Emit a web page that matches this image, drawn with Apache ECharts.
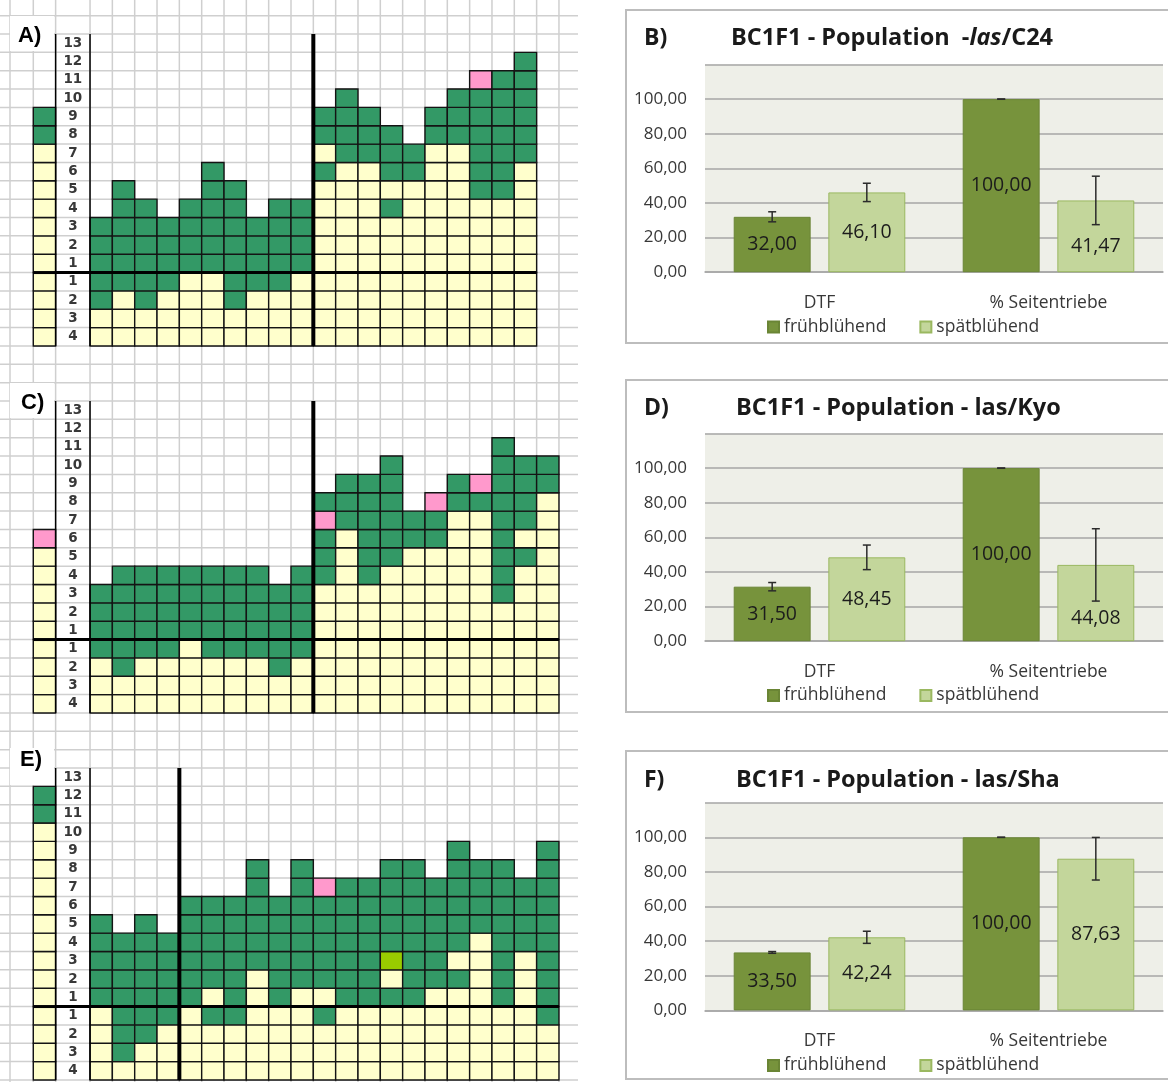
<!DOCTYPE html>
<html lang="de">
<head>
<meta charset="utf-8">
<title>BC1F1 Populationen</title>
<script src="https://cdn.jsdelivr.net/npm/echarts@6/dist/echarts.min.js"></script>
<style>
  html, body { margin: 0; padding: 0; background: #ffffff; }
  #chart { width: 1168px; height: 1082px; }
</style>
</head>
<body>
<div id="chart"></div>
<script>
// ---------- Genotype grids (A, C, E) ----------
// Row tick labels, bottom to top: 4 rows below the zero line, 13 above it
const rowLabels = ['4', '3', '2', '1', '1', '2', '3', '4', '5', '6', '7', '8', '9', '10', '11', '12', '13'];
const belowRows = 4;

// One string per column, bottom cell first; '|' marks the zero line.
// Y = gelb, G = grün, P = rosa, L = hellgrün
const refA = 'YYYY|YYYYYYYGG';
const colsA = [
  'YYGG|GGG', 'YYYG|GGGGG', 'YYGG|GGGG', 'YYYG|GGG', 'YYYY|GGGG',
  'YYYY|GGGGGG', 'YYGG|GGGGG', 'YYYG|GGG', 'YYYG|GGGG', 'YYYY|GGGG',
  'YYYY|YYYYYGYGG', 'YYYY|YYYYYYGGGG', 'YYYY|YYYYYYGGG', 'YYYY|YYYGYGGG', 'YYYY|YYYYYGG',
  'YYYY|YYYYYYYGG', 'YYYY|YYYYYYYGGG', 'YYYY|YYYYGGGGGGP', 'YYYY|YYYYGGGGGGG', 'YYYY|YYYYYYGGGGGG'
];
const splitA = 10;

const refC = 'YYYY|YYYYYP';
const colsC = [
  'YYYG|GGG', 'YYGG|GGGG', 'YYYG|GGGG', 'YYYG|GGGG', 'YYYY|GGGG',
  'YYYG|GGGG', 'YYYG|GGGG', 'YYYG|GGGG', 'YYGG|GGG', 'YYYG|GGGG',
  'YYYY|YYYGGGPG', 'YYYY|YYYYYYGGG', 'YYYY|YYYGGGGGG', 'YYYY|YYYYGGGGGG', 'YYYY|YYYYYGG',
  'YYYY|YYYYYGGP', 'YYYY|YYYYYYYGG', 'YYYY|YYYYYYYGP', 'YYYY|YYGGGGGGGGG', 'YYYY|YYYYGYGGGG',
  'YYYY|YYYYYYYYGG'
];
const splitC = 10;

const refE = 'YYYY|YYYYYYYYYYGG';
const colsE = [
  'YYYY|GGGGG', 'YGGG|GGGG', 'YYGG|GGGGG', 'YYYG|GGGG',
  'YYYY|GGGGGG', 'YYYG|YGGGGG', 'YYYG|GGGGGG', 'YYYY|YYGGGGGG', 'YYYY|GGGGGG',
  'YYYY|YGGGGGGG', 'YYYG|YGGGGGP', 'YYYY|GGGGGGG', 'YYYY|GGGGGGG', 'YYYY|GYLGGGGG',
  'YYYY|GGGGGGGG', 'YYYY|YGGGGGG', 'YYYY|YGYGGGGGG', 'YYYY|YYYYGGGG', 'YYYY|GGGGGGGG',
  'YYYY|YYYGGGG', 'YYYG|GGGGGGGGG'
];
const splitE = 4;

// ---------- Bar charts (B, D, F) ----------
const categories = ['DTF', '% Seitentriebe'];
const seriesNames = ['frühblühend', 'spätblühend'];

const earlyB = [32.00, 100.00];
const lateB = [46.10, 41.47];
const earlyErrB = [2.9, 0];
const lateErrB = [5.3, 14.0];

const earlyD = [31.50, 100.00];
const lateD = [48.45, 44.08];
const earlyErrD = [2.4, 0];
const lateErrD = [7.1, 20.9];

const earlyF = [33.50, 100.00];
const lateF = [42.24, 87.63];
const earlyErrF = [0.5, 0];
const lateErrF = [3.5, 12.3];

// ---------- Layout ----------
const COL_W = 22.33;
const ROW_H = 18.35;
const REF_LEFT = 33.3;
const LABEL_W = 34.4;
const DATA_LEFT = REF_LEFT + COL_W + LABEL_W;
const SHEET_RIGHT = 578;

const CELL_COLORS = { Y: '#FFFFCC', G: '#339966', P: '#FF99CC', L: '#99CC00' };
const CELL_KEYS = ['Y', 'G', 'P', 'L'];

const BAR_W = 0.336;
const BAR_GAP = 0.23;
const BAR_OFFSET = BAR_W * (1 + BAR_GAP) / 2;
const CAP = 4;
const FONT = '"Open Sans", "Liberation Sans", sans-serif';
const EARLY_COLOR = '#77933C';
const LATE_COLOR = '#C3D69B';

const leftPanels = [
  { name: 'A)', ref: refA, cols: colsA, split: splitA, top: 34, labelY: 36, labelX: 18, box: [10, 16, 44, 35] },
  { name: 'C)', ref: refC, cols: colsC, split: splitC, top: 401, labelY: 403, labelX: 21, box: [10, 383, 44, 35] },
  { name: 'E)', ref: refE, cols: colsE, split: splitE, top: 768, labelY: 760, labelX: 20, box: [10, 748, 44, 37] }
];

const barPanels = [
  { tag: 'B)', early: earlyB, late: lateB, earlyErr: earlyErrB, lateErr: lateErrB,
    title: '{n|BC1F1 - Population  -}{i|las}{n|/C24}', titleX: 731, titleY: 38,
    box: [626, 10, 560, 333], top: 64.5, legendTop: 318, lateShift: [[0, 0], [0, 10]] },
  { tag: 'D)', early: earlyD, late: lateD, earlyErr: earlyErrD, lateErr: lateErrD,
    title: '{n|BC1F1 - Population - las/Kyo}', titleX: 736, titleY: 408,
    box: [626, 380, 560, 332], top: 433.5, legendTop: 686.5, lateShift: [[0, 0], [0, 15]] },
  { tag: 'F)', early: earlyF, late: lateF, earlyErr: earlyErrF, lateErr: lateErrF,
    title: '{n|BC1F1 - Population - las/Sha}', titleX: 736, titleY: 780,
    box: [626, 751, 560, 328], top: 802.7, legendTop: 1056.5, lateShift: [[0, 0], [0, 0]] }
];
const PLOT_H = 207.7;

// ---------- Helpers ----------
const fmt = v => Number(v).toFixed(2).replace('.', ',');

function cellsOf(columns) {
  const out = [];
  columns.forEach((col, ci) => {
    col.replace('|', '').split('').forEach((code, ri) => {
      out.push([ci, ri, CELL_KEYS.indexOf(code)]);
    });
  });
  return out;
}

function renderCell(params, api) {
  const c = api.coord([api.value(0), api.value(1)]);
  const s = api.size([1, 1]);
  return {
    type: 'rect',
    shape: { x: c[0] - s[0] / 2, y: c[1] - s[1] / 2, width: s[0], height: s[1] },
    style: { fill: CELL_COLORS[CELL_KEYS[api.value(2)]], stroke: '#141414', lineWidth: 1.4 }
  };
}

function blackLine(x1, y1, x2, y2, w) {
  return { type: 'line', shape: { x1, y1, x2, y2 }, style: { stroke: '#000', lineWidth: w } };
}

// zero line across the reference column
function refFrame(params, api) {
  const cs = params.coordSys;
  const s = api.size([1, 1]);
  const yZero = api.coord([0, belowRows])[1] + s[1] / 2;
  return { type: 'group', children: [blackLine(cs.x, yZero, cs.x + cs.width, yZero, 3)] };
}

// label column borders, zero line and the group separator
function dataFrame(split) {
  return function (params, api) {
    const cs = params.coordSys;
    const s = api.size([1, 1]);
    const yZero = api.coord([0, belowRows])[1] + s[1] / 2;
    const xSplit = api.coord([split, 0])[0] - s[0] / 2;
    const top = cs.y, bottom = cs.y + cs.height;
    return {
      type: 'group',
      children: [
        blackLine(cs.x - LABEL_W, top, cs.x - LABEL_W, bottom, 1.5),
        blackLine(cs.x, top, cs.x, bottom, 1.5),
        blackLine(cs.x - LABEL_W, yZero, cs.x + cs.width, yZero, 3),
        blackLine(xSplit, top, xSplit, bottom, 4)
      ]
    };
  };
}

function errorBar(side) {
  return function (params, api) {
    const i = api.value(0), v = api.value(1), e = api.value(2);
    const band = api.size([1, 0])[0];
    const x = api.coord([i, v])[0] + side * band * BAR_OFFSET;
    const yHi = api.coord([i, v + e])[1];
    const yLo = api.coord([i, v - e])[1];
    const style = { stroke: '#2b2b2b', lineWidth: 1.5 };
    return {
      type: 'group',
      children: [
        { type: 'line', shape: { x1: x, y1: yHi, x2: x, y2: yLo }, style },
        { type: 'line', shape: { x1: x - CAP, y1: yHi, x2: x + CAP, y2: yHi }, style },
        { type: 'line', shape: { x1: x - CAP, y1: yLo, x2: x + CAP, y2: yLo }, style }
      ]
    };
  };
}

// ---------- Option assembly ----------
const grids = [], xAxes = [], yAxes = [], series = [], legends = [], graphics = [];

function addGrid(g) {
  grids.push(Object.assign({ show: false, containLabel: false, outerBoundsMode: 'none' }, g));
  return grids.length - 1;
}

// spreadsheet background lines
for (let k = -2; k < 60; k++) {
  const y = leftPanels[0].top + k * ROW_H;
  if (y < 0 || y > 1082) continue;
  graphics.push({ type: 'line', z: 0, silent: true, shape: { x1: 0, y1: y, x2: SHEET_RIGHT, y2: y },
    style: { stroke: '#CFCFCF', lineWidth: 1.5 } });
}
const sheetCols = [10, REF_LEFT, REF_LEFT + COL_W];
for (let k = 0; k <= 21; k++) sheetCols.push(DATA_LEFT + k * COL_W);
sheetCols.forEach(x => {
  graphics.push({ type: 'line', z: 0, silent: true, shape: { x1: x, y1: 0, x2: x, y2: 1082 },
    style: { stroke: '#CFCFCF', lineWidth: 1.5 } });
});

leftPanels.forEach(p => {
  const h = rowLabels.length * ROW_H;

  const gRef = addGrid({ left: REF_LEFT, top: p.top, width: COL_W, height: h });
  xAxes.push({ type: 'category', gridIndex: gRef, data: ['ref'], show: false });
  yAxes.push({ type: 'category', gridIndex: gRef, data: rowLabels, show: false });
  series.push({ type: 'custom', xAxisIndex: gRef, yAxisIndex: gRef, data: cellsOf([p.ref]),
    encode: { x: 0, y: 1 }, renderItem: renderCell, z: 3, silent: true });
  series.push({ type: 'custom', xAxisIndex: gRef, yAxisIndex: gRef, data: [[0, 0]],
    encode: { x: 0, y: 1 }, renderItem: refFrame, z: 8, silent: true });

  const gData = addGrid({ left: DATA_LEFT, top: p.top, width: p.cols.length * COL_W, height: h });
  xAxes.push({ type: 'category', gridIndex: gData, data: p.cols.map((_, i) => String(i + 1)), show: false });
  yAxes.push({
    type: 'category', gridIndex: gData, data: rowLabels,
    axisLine: { show: false }, axisTick: { show: false }, splitLine: { show: false },
    axisLabel: { interval: 0, align: 'center', margin: LABEL_W / 2,
      fontFamily: '"DejaVu Sans", sans-serif', fontWeight: 'bold', fontSize: 13.5, color: '#383838' }
  });
  series.push({ type: 'custom', xAxisIndex: gData, yAxisIndex: gData, data: cellsOf(p.cols),
    encode: { x: 0, y: 1 }, renderItem: renderCell, z: 3, silent: true });
  series.push({ type: 'custom', xAxisIndex: gData, yAxisIndex: gData, data: [[0, 0]],
    encode: { x: 0, y: 1 }, renderItem: dataFrame(p.split), z: 8, silent: true });

  graphics.push({ type: 'rect', z: 5, silent: true,
    shape: { x: p.box[0], y: p.box[1], width: p.box[2], height: p.box[3] },
    style: { fill: '#ffffff' } });
  graphics.push({ type: 'text', z: 6, silent: true,
    style: { text: p.name, x: p.labelX, y: p.labelY, verticalAlign: 'middle',
      font: 'bold 22px "Liberation Sans", sans-serif', fill: '#000' } });
});

barPanels.forEach(p => {
  graphics.push({ type: 'rect', z: 1, silent: true,
    shape: { x: p.box[0], y: p.box[1], width: p.box[2], height: p.box[3] },
    style: { fill: 'none', stroke: '#BDBDBD', lineWidth: 2 } });
  graphics.push({ type: 'text', z: 6, silent: true,
    style: { text: p.tag, x: p.box[0] + 18, y: p.titleY, verticalAlign: 'middle',
      font: 'bold 23px ' + FONT, fill: '#1a1a1a' } });
  graphics.push({ type: 'text', z: 6, silent: true,
    style: { text: p.title, x: p.titleX, y: p.titleY, verticalAlign: 'middle',
      rich: {
        n: { fontFamily: FONT, fontWeight: 'bold', fontSize: 23.5, fill: '#1a1a1a' },
        i: { fontFamily: FONT, fontWeight: 'bold', fontStyle: 'italic', fontSize: 23.5, fill: '#1a1a1a' }
      } } });

  const g = addGrid({ left: 705, right: 5, top: p.top, height: PLOT_H, show: true,
    backgroundColor: '#EEEFE8', borderWidth: 0 });
  xAxes.push({
    type: 'category', gridIndex: g, data: categories,
    axisLine: { lineStyle: { color: '#A6A6A6', width: 1.5 } },
    axisTick: { show: false },
    axisLabel: { interval: 0, margin: 22, fontFamily: FONT, fontSize: 17.5, color: '#383838' }
  });
  yAxes.push({
    type: 'value', gridIndex: g, min: 0, max: 120, interval: 20,
    axisLine: { show: false }, axisTick: { show: false },
    splitLine: { lineStyle: { color: '#A6A6A6', width: 1.5 } },
    axisLabel: { margin: 18, fontFamily: FONT, fontSize: 17, color: '#383838',
      formatter: v => (v > 100 ? '' : fmt(v)) }
  });

  const labelBase = { show: true, position: 'inside', fontFamily: FONT, fontSize: 19.5, color: '#1c1c1c',
    textBorderWidth: 0, formatter: q => fmt(q.value) };
  series.push({
    type: 'bar', name: seriesNames[0], xAxisIndex: g, yAxisIndex: g,
    barWidth: (BAR_W * 100) + '%', barGap: (BAR_GAP * 100) + '%',
    data: p.early, z: 2,
    itemStyle: { color: EARLY_COLOR, borderColor: '#6A8535', borderWidth: 1 },
    label: labelBase
  });
  series.push({
    type: 'bar', name: seriesNames[1], xAxisIndex: g, yAxisIndex: g,
    barWidth: (BAR_W * 100) + '%', barGap: (BAR_GAP * 100) + '%',
    data: p.late.map((v, i) => ({ value: v, label: { offset: p.lateShift[i] } })), z: 2,
    itemStyle: { color: LATE_COLOR, borderColor: '#9AB860', borderWidth: 1 },
    label: labelBase
  });
  series.push({ type: 'custom', name: 'err-early', xAxisIndex: g, yAxisIndex: g, z: 5, silent: true,
    data: p.early.map((v, i) => [i, v, p.earlyErr[i]]), encode: { x: 0, y: 1 }, renderItem: errorBar(-1) });
  series.push({ type: 'custom', name: 'err-late', xAxisIndex: g, yAxisIndex: g, z: 5, silent: true,
    data: p.late.map((v, i) => [i, v, p.lateErr[i]]), encode: { x: 0, y: 1 }, renderItem: errorBar(1) });

  legends.push({
    data: seriesNames, left: 767, top: p.legendTop, padding: 0, itemGap: 33,
    icon: 'rect', itemWidth: 11, itemHeight: 11, selectedMode: false,
    textStyle: { fontFamily: FONT, fontSize: 17.5, color: '#383838' }
  });
});

const chart = echarts.init(document.getElementById('chart'), null, { renderer: 'canvas' });
chart.setOption({
  animation: false,
  backgroundColor: '#ffffff',
  grid: grids,
  xAxis: xAxes,
  yAxis: yAxes,
  legend: legends,
  graphic: { elements: graphics },
  series: series
});
</script>
</body>
</html>
